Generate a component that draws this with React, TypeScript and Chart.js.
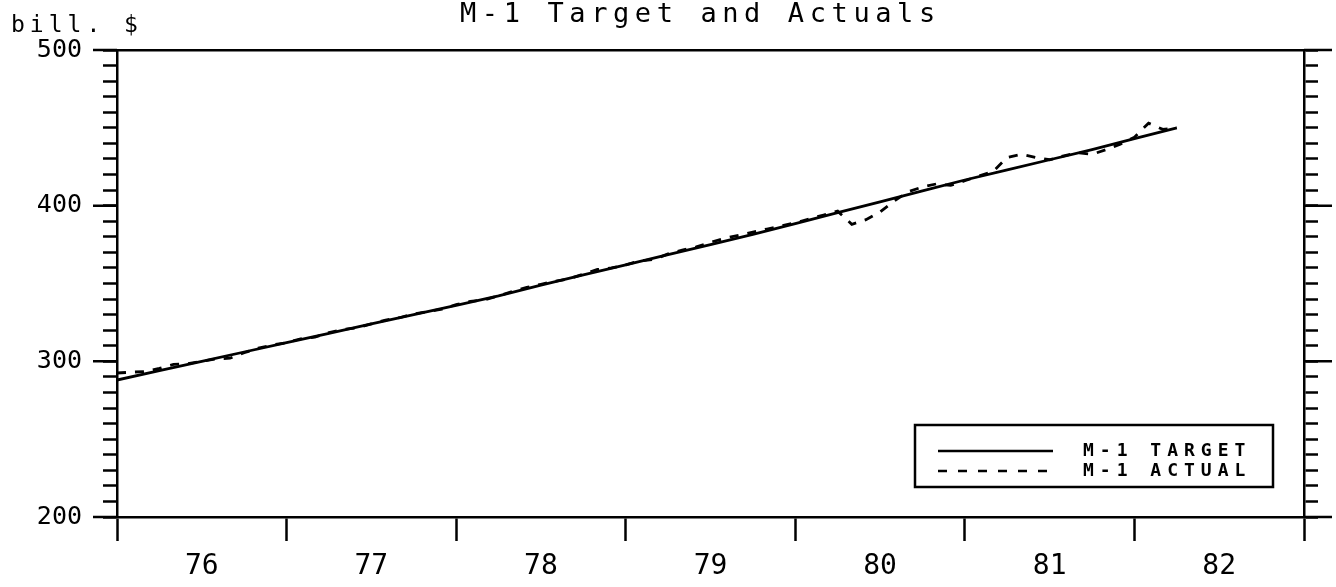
import React, { useEffect, useRef } from "react";
import { Chart, registerables } from "chart.js";

Chart.register(...registerables);

const titleText = "M-1 Target and Actuals";
const unitText = "bill. $";
const yearLabels = ["76", "77", "78", "79", "80", "81", "82"];
const yMajorTicks = [200, 300, 400, 500];
const legendLabels = ["M-1 TARGET", "M-1 ACTUAL"];

// Target path, quarterly from Jan 1976 (bill. $)
const targetQuarterly = [
  288, 294, 300, 306, 312, 318, 324, 330, 336, 342, 349, 355.5, 362,
  368.5, 375, 381.5, 388.5, 395.5, 402.5, 409.5, 416.5, 423, 429.5, 436, 443, 450,
];

// Actual M-1, monthly from Jan 1976 (bill. $)
const actualMonthly = [
  292.5, 293, 293.5, 295.5, 298, 298.5, 300, 301.5, 302, 305.5, 308.5, 310.5,
  312, 314.5, 315.5, 318.5, 320.5, 321.5, 324, 326.5, 328, 330.5, 332, 333.5,
  336.5, 338.5, 339.5, 342, 345, 347.5, 349.5, 351.5, 353, 356, 359, 360,
  362, 364.5, 365.5, 369, 371.5, 373.5, 376.5, 379, 381, 383, 385, 387,
  389, 391.5, 394, 396.5, 388, 391, 396, 403, 409, 412, 414, 413,
  416, 419, 422, 431, 433, 431, 429.5, 432, 434, 433, 436, 439.5,
  444, 453, 449, 450,
];

const FONT = '"DejaVu Sans Mono", monospace';

const decorPlugin = {
  id: "decor",
  beforeDraw(chart: any) {
    (chart.ctx as any).letterSpacing = "0px";
  },
  afterDraw(chart: any) {
    const { ctx, chartArea: ca, scales } = chart;
    const y = scales.y;
    ctx.save();
    ctx.strokeStyle = "#000";
    ctx.fillStyle = "#000";
    ctx.lineWidth = 2.5;
    ctx.lineCap = "butt";
    // major tick extensions on both vertical axes
    for (const v of yMajorTicks) {
      const py = y.getPixelForValue(v);
      ctx.beginPath();
      ctx.moveTo(ca.left - 24, py);
      ctx.lineTo(ca.left, py);
      ctx.moveTo(ca.right, py);
      ctx.lineTo(ca.right + 28, py);
      ctx.stroke();
    }
    // title
    (ctx as any).letterSpacing = "5.6px";
    ctx.font = `27px ${FONT}`;
    ctx.textAlign = "left";
    ctx.textBaseline = "alphabetic";
    ctx.fillText(titleText, 460, 22);
    // unit label
    (ctx as any).letterSpacing = "5px";
    ctx.font = `23px ${FONT}`;
    ctx.fillText(unitText, 11, 32);

    // legend
    const lx0 = 915, lx1 = 1273, ly0 = 425, ly1 = 487;
    ctx.lineWidth = 2.5;
    ctx.strokeRect(lx0, ly0, lx1 - lx0, ly1 - ly0);
    ctx.beginPath();
    ctx.moveTo(938, 451);
    ctx.lineTo(1053, 451);
    ctx.stroke();
    ctx.setLineDash([9, 11]);
    ctx.beginPath();
    ctx.moveTo(938, 471);
    ctx.lineTo(1053, 471);
    ctx.stroke();
    ctx.setLineDash([]);
    (ctx as any).letterSpacing = "6px";
    ctx.font = `bold 18px ${FONT}`;
    ctx.textBaseline = "middle";
    ctx.fillText(legendLabels[0], 1083, 451);
    ctx.fillText(legendLabels[1], 1083, 471);
    (ctx as any).letterSpacing = "0px";
    ctx.restore();
  },
};

export default function App() {
  const ref = useRef<HTMLCanvasElement | null>(null);

  useEffect(() => {
    document.body.style.margin = "0";
    const canvas = ref.current!;
    const targetPts = targetQuarterly.map((v, i) => ({ x: i / 4, y: v }));
    const actualPts = actualMonthly.map((v, i) => ({ x: i / 12, y: v }));

    const chart = new Chart(canvas, {
      type: "line",
      data: {
        datasets: [
          {
            label: legendLabels[0],
            data: targetPts,
            borderColor: "#000",
            borderWidth: 2.8,
            pointRadius: 0,
            tension: 0,
            xAxisID: "x",
            yAxisID: "y",
          },
          {
            label: legendLabels[1],
            data: actualPts,
            borderColor: "#000",
            borderWidth: 2.8,
            borderDash: [9, 9],
            pointRadius: 0,
            tension: 0,
            xAxisID: "x",
            yAxisID: "y",
          },
        ],
      },
      options: {
        responsive: false,
        animation: false,
        layout: { padding: { top: 50, left: 0, right: 0, bottom: 0 } },
        plugins: {
          legend: { display: false },
          title: { display: false },
          tooltip: { enabled: false },
        },
        scales: {
          x: {
            type: "linear",
            position: "bottom",
            min: 0,
            max: 7,
            afterFit: (s: any) => {
              s.height = 70;
            },
            afterBuildTicks: (s: any) => {
              const t: any[] = [];
              for (let i = 0; i <= 14; i++) t.push({ value: i / 2 });
              s.ticks = t;
            },
            ticks: {
              autoSkip: false,
              maxRotation: 0,
              padding: 9,
              color: "#000",
              font: { family: FONT, size: 28 },
              callback: (v: any) => {
                const n = Number(v);
                return Number.isInteger(n) ? "" : yearLabels[Math.floor(n)];
              },
            },
            grid: {
              drawOnChartArea: false,
              drawTicks: true,
              tickLength: 24,
              tickWidth: 2.5,
              tickColor: (c: any) =>
                Number.isInteger(c.tick?.value) ? "#000" : "rgba(0,0,0,0)",
            },
            border: { display: true, color: "#000", width: 2.5 },
          },
          xTop: {
            type: "linear",
            position: "top",
            min: 0,
            max: 7,
            afterFit: (s: any) => {
              s.height = 0;
            },
            ticks: { display: false },
            grid: { display: false },
            border: { display: true, color: "#000", width: 2.5 },
          },
          y: {
            type: "linear",
            position: "left",
            min: 200,
            max: 500,
            afterFit: (s: any) => {
              s.width = 117;
            },
            ticks: {
              stepSize: 10,
              autoSkip: false,
              padding: 21,
              color: "#000",
              font: { family: FONT, size: 25 },
              callback: (v: any) => (Number(v) % 100 === 0 ? String(v) : ""),
            },
            grid: {
              drawOnChartArea: false,
              drawTicks: true,
              tickLength: 14,
              tickWidth: 2.5,
              tickColor: "#000",
            },
            border: { display: true, color: "#000", width: 2.5 },
          },
          yRight: {
            type: "linear",
            position: "right",
            min: 200,
            max: 500,
            afterFit: (s: any) => {
              s.width = 32;
            },
            ticks: {
              stepSize: 10,
              autoSkip: false,
              color: "rgba(0,0,0,0)",
              callback: () => "",
            },
            grid: {
              drawOnChartArea: false,
              drawTicks: true,
              tickLength: 14,
              tickWidth: 2.5,
              tickColor: "#000",
            },
            border: { display: true, color: "#000", width: 2.5 },
          },
        },
      } as any,
      plugins: [decorPlugin],
    });
    return () => chart.destroy();
  }, []);

  return (
    <div style={{ position: "absolute", left: 0, top: 0, width: 1336, height: 587, background: "#fff" }}>
      <canvas ref={ref} width={1336} height={587} style={{ display: "block" }} />
    </div>
  );
}
